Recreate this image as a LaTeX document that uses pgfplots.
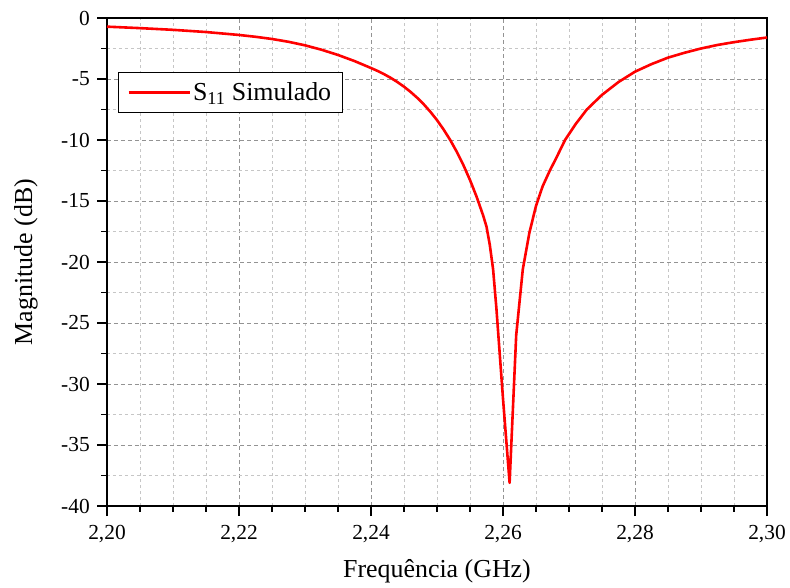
\documentclass[border=0pt]{standalone}
\usepackage{pgfplots}
\pgfplotsset{compat=1.18}
\usepackage{fontspec}
\setmainfont{Liberation Serif}
\begin{document}
\begin{tikzpicture}
\useasboundingbox (-107bp,-82bp) rectangle (683bp,506bp);
\begin{axis}[
  scale only axis,
  width=660bp, height=488bp,
  xmin=2.20, xmax=2.30, ymin=-40, ymax=0,
  xtick={2.20,2.22,2.24,2.26,2.28,2.30},
  xticklabels={{2,20},{2,22},{2,24},{2,26},{2,28},{2,30}},
  ytick={-40,-35,-30,-25,-20,-15,-10,-5,0},
  yticklabels={-40,-35,-30,-25,-20,-15,-10,-5,0},
  minor x tick num=3,
  minor y tick num=1,
  tick pos=left,
  tick align=outside,
  major tick length=10bp,
  minor tick length=5.5bp,
  every tick/.style={black, line width=1.2bp},
  axis line style={black, line width=1.8bp},
  grid=both,
  major grid style={gray!85, dashed, line width=0.8bp, dash pattern=on 4bp off 3bp},
  minor grid style={gray!45, dashed, line width=0.8bp, dash pattern=on 3bp off 3bp},
  tick label style={font=\fontsize{21.5}{24}\selectfont},
  xticklabel style={anchor=base, inner sep=0pt, yshift=-23bp},
  yticklabel style={anchor=east, inner sep=0pt, xshift=-7bp},
  xlabel={Frequência (GHz)},
  ylabel={Magnitude (dB)},
  label style={font=\fontsize{26}{30}\selectfont},
  xlabel style={at={(axis description cs:0.5,-0.1455)}, anchor=base, inner sep=0pt},
  ylabel style={at={(axis description cs:-0.1136,0.5)}, anchor=base, inner sep=0pt},
  legend style={at={(axis description cs:0.0167,0.889)}, anchor=north west,
    draw=black, line width=0.8bp, font=\fontsize{26}{30}\selectfont,
    inner xsep=9bp, inner ysep=8bp},
  legend cell align=left,
  legend image code/.code={\draw[#1] (0bp,0bp) -- (61bp,0bp);},
]
\addplot[red, line width=2.6bp, line join=round] coordinates {
(2.2000,-0.71) (2.2050,-0.83) (2.2100,-0.97) (2.2150,-1.15) (2.2200,-1.39)
(2.2225,-1.54) (2.2250,-1.72) (2.2275,-1.95) (2.2300,-2.24) (2.2325,-2.60)
(2.2350,-3.03) (2.2375,-3.53) (2.2400,-4.10) (2.2410,-4.34) (2.2420,-4.61)
(2.2430,-4.91) (2.2440,-5.25) (2.2450,-5.63) (2.2460,-6.06) (2.2470,-6.54)
(2.2480,-7.08) (2.2490,-7.69) (2.2500,-8.37) (2.2510,-9.14) (2.2520,-10.0)
(2.2530,-10.97) (2.2540,-12.06) (2.2550,-13.28) (2.2560,-14.65) (2.2570,-16.2)
(2.2575,-17.1) (2.2580,-18.6) (2.2585,-20.6) (2.2590,-23.8) (2.2600,-31.2)
(2.2610,-38.1) (2.2620,-26.0) (2.2630,-20.6) (2.2640,-17.6) (2.2650,-15.4)
(2.2660,-13.8) (2.2671,-12.5) (2.2680,-11.55) (2.2694,-10.0) (2.2710,-8.7)
(2.2727,-7.5) (2.2750,-6.3) (2.2775,-5.25) (2.2800,-4.4) (2.2825,-3.78)
(2.2850,-3.25) (2.2875,-2.85) (2.2900,-2.5) (2.2925,-2.21) (2.2950,-1.98)
(2.2975,-1.78) (2.3000,-1.6)
};
\addlegendentry{S\textsubscript{11} Simulado}
\end{axis}
\end{tikzpicture}
\end{document}
